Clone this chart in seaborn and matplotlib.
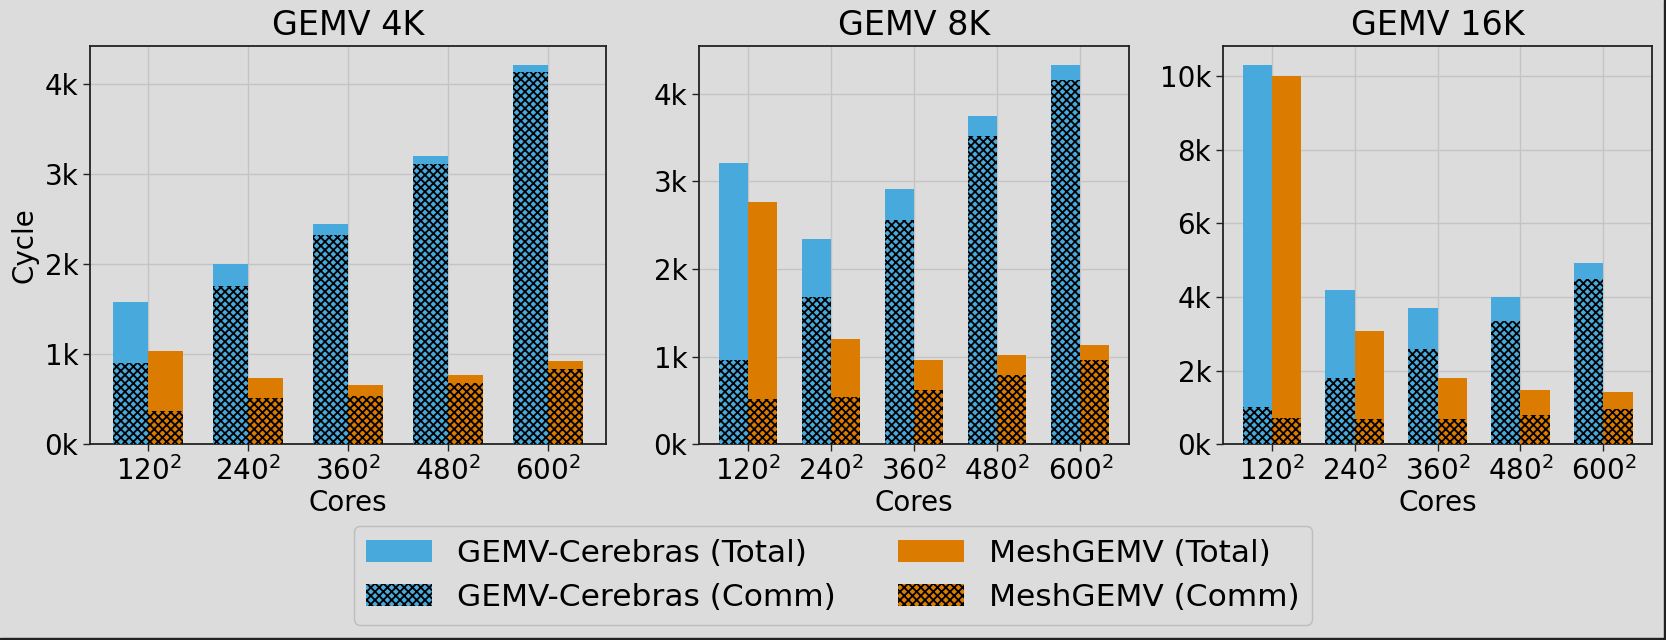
import matplotlib
matplotlib.use("Agg")
import matplotlib.pyplot as plt
from matplotlib.patches import Patch, Rectangle
from matplotlib.ticker import FuncFormatter
import seaborn as sns
import pandas as pd

# data (cycles)
cores = ["120", "240", "360", "480", "600"]
titles = ["GEMV 4K", "GEMV 8K", "GEMV 16K"]

cerebras_total_4k = [1575, 2000, 2450, 3200, 4210]
cerebras_comm_4k = [905, 1760, 2330, 3110, 4140]
mesh_total_4k = [1040, 740, 660, 770, 920]
mesh_comm_4k = [370, 510, 540, 680, 840]

cerebras_total_8k = [3215, 2345, 2910, 3750, 4327]
cerebras_comm_8k = [960, 1680, 2565, 3515, 4160]
mesh_total_8k = [2770, 1205, 962, 1015, 1130]
mesh_comm_8k = [520, 545, 625, 790, 962]

cerebras_total_16k = [10300, 4190, 3710, 4000, 4920]
cerebras_comm_16k = [1020, 1790, 2600, 3340, 4480]
mesh_total_16k = [10000, 3080, 1810, 1475, 1420]
mesh_comm_16k = [715, 680, 700, 805, 970]

methods = ["GEMV-Cerebras", "MeshGEMV"]
blue = "#47a9dc"
orange = "#db7b00"
bg = "#dcdcdc"
hatch = "xxxx"

plt.rcParams["hatch.linewidth"] = 1.3
plt.rcParams["font.family"] = ["DejaVu Sans"]
plt.rcParams["mathtext.fontset"] = "dejavusans"

panels = [
    (cerebras_total_4k, cerebras_comm_4k, mesh_total_4k, mesh_comm_4k),
    (cerebras_total_8k, cerebras_comm_8k, mesh_total_8k, mesh_comm_8k),
    (cerebras_total_16k, cerebras_comm_16k, mesh_total_16k, mesh_comm_16k),
]

fig = plt.figure(figsize=(16.66, 6.4), dpi=100, facecolor=bg)
W, H = 1666, 640
boxes = [(90, 606), (699, 1129), (1223, 1652)]
top_px, bot_px = 46.3, 444.3

for i, (ct, cc, mt, mc) in enumerate(panels):
    l, r = boxes[i]
    ax = fig.add_axes([l / W, 1 - bot_px / H, (r - l) / W, (bot_px - top_px) / H])
    ax.set_facecolor(bg)
    df = pd.DataFrame({
        "core": cores * 2,
        "method": [methods[0]] * 5 + [methods[1]] * 5,
        "total": ct + mt,
        "comm": cc + mc,
    })
    sns.barplot(data=df, x="core", y="total", hue="method", hue_order=methods,
                palette=[blue, orange], saturation=1, width=0.7, legend=False,
                linewidth=0, ax=ax, zorder=2)
    sns.barplot(data=df, x="core", y="comm", hue="method", hue_order=methods,
                palette=[blue, orange], saturation=1, width=0.7, legend=False,
                hatch=hatch, edgecolor="black", linewidth=0, ax=ax, zorder=3)
    ax.set_xlim(-0.585, 4.585)
    ax.grid(True, color="#c4c4c4", linewidth=1.0, zorder=0)
    ax.set_axisbelow(True)
    ax.set_xticks(range(5))
    ax.set_xticklabels([rf"${c}^2$" for c in cores])
    ax.yaxis.set_major_formatter(FuncFormatter(lambda v, p: f"{int(round(v / 1000))}k"))
    ax.tick_params(labelsize=20, length=5, width=1, color="#222222")
    for s in ax.spines.values():
        s.set_color("#222222")
        s.set_linewidth(1.3)
    ax.set_title(titles[i], fontsize=24, pad=8)
    ax.set_xlabel("Cores", fontsize=20, labelpad=2)
    ax.set_ylabel("Cycle" if i == 0 else "", fontsize=20)

handles = [
    Patch(facecolor=blue, label="GEMV-Cerebras (Total)"),
    Patch(facecolor=blue, hatch=hatch, edgecolor="black", linewidth=0, label="GEMV-Cerebras (Comm)"),
    Patch(facecolor=orange, label="MeshGEMV (Total)"),
    Patch(facecolor=orange, hatch=hatch, edgecolor="black", linewidth=0, label="MeshGEMV (Comm)"),
]
leg = fig.legend(handles=handles, ncol=2, fontsize=22.5, loc="upper center",
                 bbox_to_anchor=(0.5, 1 - 526 / H), borderaxespad=0,
                 handlelength=2.1, facecolor=bg, edgecolor="#bdbdbd", framealpha=1)

# dark screenshot border on right and bottom
fig.add_artist(Rectangle((1 - 2 / W, 0), 2 / W, 1, transform=fig.transFigure, color="#222222"))
fig.add_artist(Rectangle((0, 0), 1, 2 / H, transform=fig.transFigure, color="#222222"))

fig.savefig("out.png", dpi=100, facecolor=bg)
